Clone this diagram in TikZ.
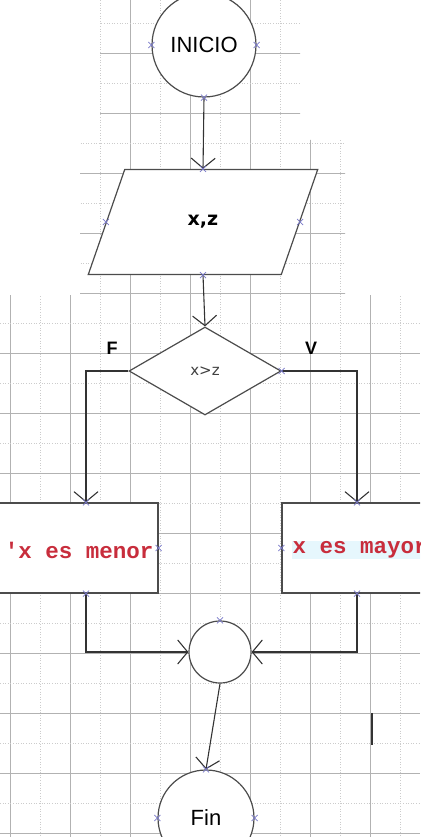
\documentclass[tikz,border=0pt]{standalone}
\usepackage{fontspec}
\setmainfont{Liberation Sans}
\setmonofont{Liberation Mono}
\newfontfamily\dejavu{DejaVu Sans}
\usetikzlibrary{positioning,shapes.geometric,arrows.meta,calc}
\definecolor{msgred}{RGB}{200,45,60}
\definecolor{portblue}{RGB}{120,120,200}
\tikzset{shapeline/.style={draw=black!70, line width=1.2pt, fill=white}}
\newcommand{\portmark}[1]{\draw[port] (#1) +(-3,-3) -- +(3,3) +(-3,3) -- +(3,-3);}

\begin{document}
\begin{tikzpicture}[
    x=1pt, y=-1pt,
    >={Straight Barb[length=10pt,width=24pt]},
    line/.style={draw=black!80, line width=1.1pt, ->},
    port/.style={draw=portblue, line width=0.8pt},
    gridmajor/.style={draw=black!30, line width=0.6pt},
    gridminor/.style={draw=black!20, line width=0.6pt, dotted},
    terminal/.style={shapeline, circle, inner sep=0pt, font=\fontsize{22}{22}\selectfont},
    iobox/.style={shapeline, trapezium, trapezium left angle=61.5, trapezium right angle=118.5,
        trapezium stretches=true, minimum width=230pt, minimum height=105pt, inner sep=0pt,
        font=\dejavu\bfseries\fontsize{19}{19}\selectfont},
    decision/.style={shapeline, diamond, minimum width=152pt, minimum height=88pt, inner sep=0pt,
        font=\dejavu\fontsize{15}{15}\selectfont\color{black!75}},
    procbox/.style={shapeline, rectangle, minimum width=198pt, minimum height=90pt},
    msg/.style={inner sep=1pt, text=msgred, font=\ttfamily\bfseries\fontsize{22.5}{22.5}\selectfont},
    branch/.style={font=\bfseries\fontsize{18}{18}\selectfont}
]
\clip (0,0) rectangle (420,837);
% Background grid
\begin{scope}
\clip (100,0) rectangle (300,140) (80,140) rectangle (345,295) (0,295) rectangle (420,837);
\foreach \gx in {10,70,...,430} \draw[gridmajor] (\gx,0) -- (\gx,837);
\foreach \gx in {40,100,...,430} \draw[gridminor] (\gx,0) -- (\gx,837);
\foreach \gy in {53,113,...,840} \draw[gridmajor] (0,\gy) -- (420,\gy);
\foreach \gy in {23,83,...,840} \draw[gridminor] (0,\gy) -- (420,\gy);
\end{scope}
\draw[draw=black!80, line width=2pt] (372,713) -- (372,745);
% Shapes
\node[terminal, minimum size=104pt] (ini) at (204,45) {INICIO};
\node[iobox] (io) at (203,222) {x,z};
\node[decision] (dec) at (205,371) {x>z};
\node[branch] (lblF) at (112,348) {F};
\node[branch] (lblV) at (311,348) {V};
\node[procbox] (menor) at (59,548) {};
\node[procbox] (mayor) at (381,548) {};
\node[msg, anchor=east] (menorTxt) at ([xshift=-4pt,yshift=-2pt]menor.east) {'x es menor};
\node[msg, anchor=west, fill=cyan!10] (mayorTxt) at ([xshift=10pt,yshift=-2pt]mayor.west) {x es mayor};
\node[terminal, minimum size=62pt] (circ) at (220,652) {};
\node[terminal, minimum size=96pt] (fin) at (206,818) {Fin};
% Connectors
\draw[line] (ini.south) -- (io.north);
\draw[line] (io.south) -- (dec.north);
\draw[line] (dec.west) -| ([xshift=27pt]menor.north);
\draw[line] (dec.east) -| ([xshift=-24pt]mayor.north);
\draw[line] ([xshift=27pt]menor.south) |- (circ.west);
\draw[line] ([xshift=-24pt]mayor.south) |- (circ.east);
\draw[line] (circ.south) -- (fin.north);
% Connection points
\foreach \p in {ini.west, ini.east, ini.south, io.north, io.south, io.left side, io.right side,
    menor.east, mayor.west, circ.north, fin.north, fin.west, fin.east, dec.east}
    {\portmark{\p}}
\portmark{[xshift=27pt]menor.north}
\portmark{[xshift=27pt]menor.south}
\portmark{[xshift=-24pt]mayor.north}
\portmark{[xshift=-24pt]mayor.south}
\end{tikzpicture}
\end{document}
